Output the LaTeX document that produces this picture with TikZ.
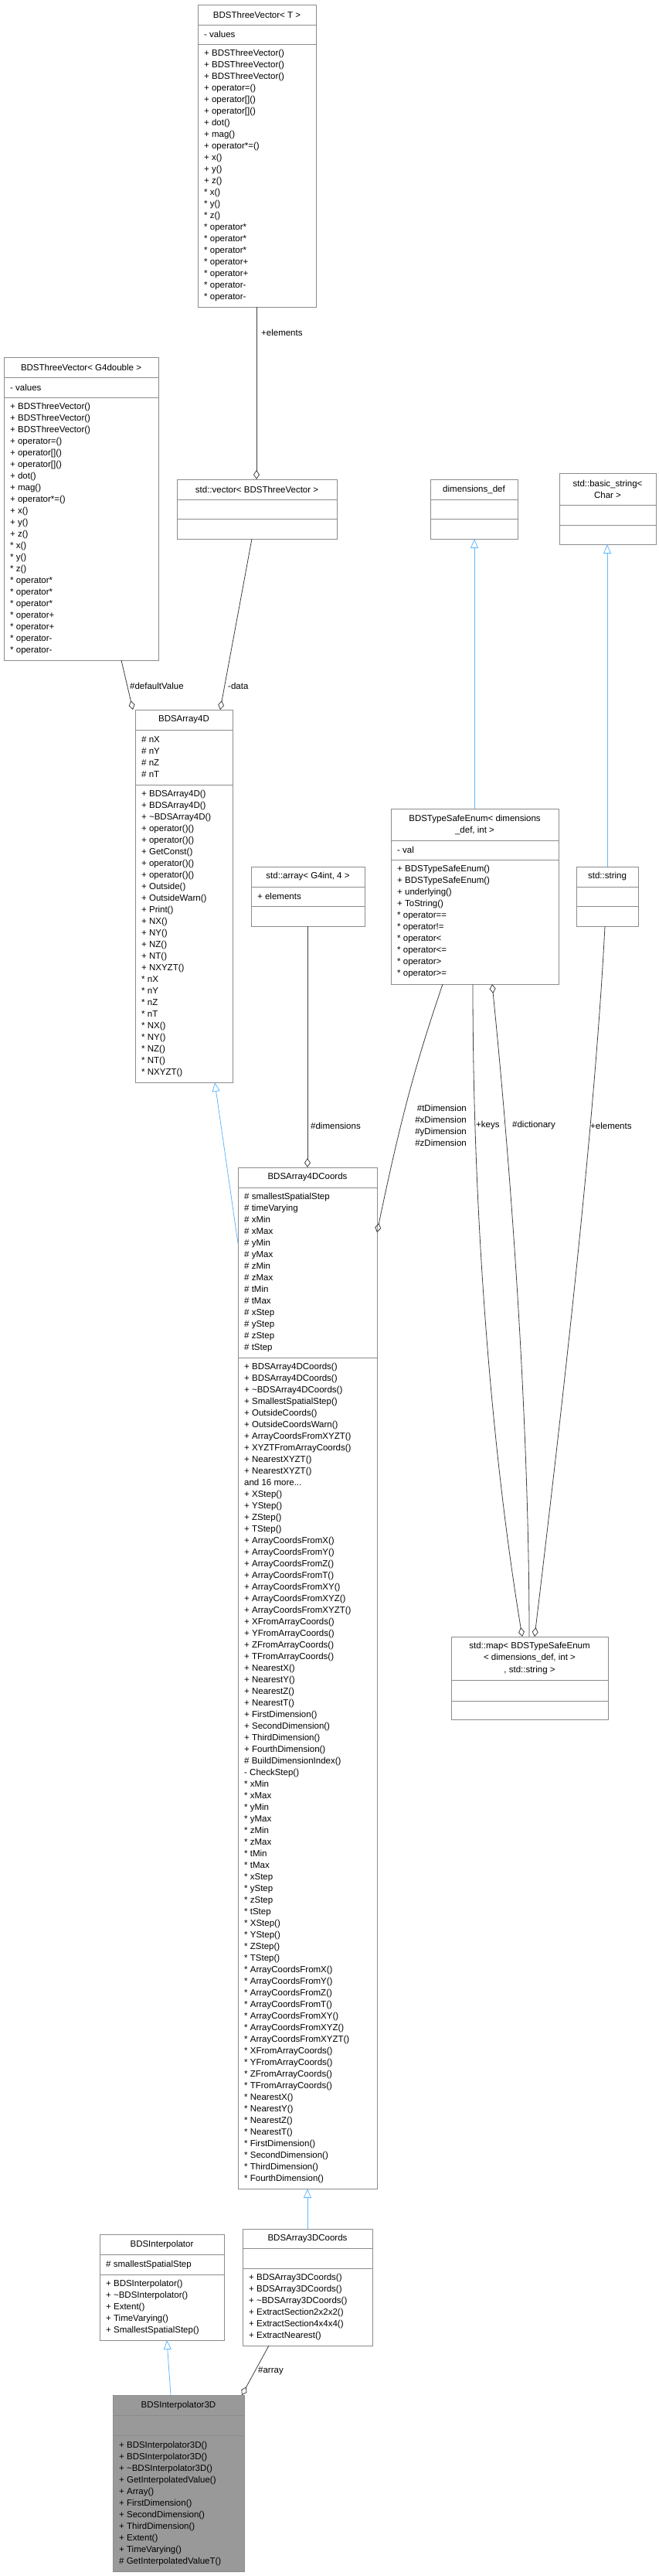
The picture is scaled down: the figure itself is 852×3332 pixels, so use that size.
\documentclass[tikz,border=0pt]{standalone}
\usepackage{fontspec}
\setmainfont{Liberation Sans}
\usetikzlibrary{arrows.meta}
\definecolor{boxc}{RGB}{140,140,140}
\definecolor{edgec}{RGB}{64,64,64}
\definecolor{inhc}{RGB}{99,184,255}
\definecolor{selc}{RGB}{153,153,153}
\tikzset{
  every node/.style={font=\fontsize{11.5}{15}\selectfont},
  tx/.style={anchor=west, align=left, inner sep=0},
  hd/.style={anchor=center, align=center, inner sep=0},
  lbl/.style={anchor=west, align=left, inner sep=0},
  agg/.style={draw=edgec, line width=0.8pt, {Diamond[open,length=12pt,width=8pt]}-},
  inh/.style={draw=inhc, line width=0.8pt, {Triangle[open,length=12pt,width=10pt]}-},
}
\newcommand\cls[8]{%
 \node[draw=boxc, line width=0.9pt, fill=#8, minimum width=#4pt, minimum height=#5pt, inner sep=0, anchor=north west] (#1) at (#2,#3) {};
 \draw[boxc, line width=0.9pt] (#2,#6) -- ++(#4,0);
 \draw[boxc, line width=0.9pt] (#2,#7) -- ++(#4,0);
 \coordinate (#1-t) at ({#2+#4/2},{(#3+#6)/2});
 \coordinate (#1-f) at ({#2+8},{(#6+#7)/2});
 \coordinate (#1-m) at ({#2+8},{(#7+#3+#5)/2});
}
\begin{document}
\begin{tikzpicture}[x=1pt,y=-1pt]
\useasboundingbox (0,0) rectangle (852,3332);
\fill[white] (0,0) rectangle (852,3332);

\cls{T3}{256}{6}{153}{391}{32}{57}{white}
\node[hd] at (T3-t) {BDSThreeVector< T >};
\node[tx] at (T3-f) {- values};
\node[tx] at (T3-m) {+ BDSThreeVector()\\+ BDSThreeVector()\\+ BDSThreeVector()\\+ operator=()\\+ operator[]()\\+ operator[]()\\+ dot()\\+ mag()\\+ operator*=()\\+ x()\\+ y()\\+ z()\\* x()\\* y()\\* z()\\* operator*\\* operator*\\* operator*\\* operator+\\* operator+\\* operator-\\* operator-};

\cls{G4}{5}{462}{200}{392}{488}{514}{white}
\node[hd] at (G4-t) {BDSThreeVector< G4double >};
\node[tx] at (G4-f) {- values};
\node[tx] at (G4-m) {+ BDSThreeVector()\\+ BDSThreeVector()\\+ BDSThreeVector()\\+ operator=()\\+ operator[]()\\+ operator[]()\\+ dot()\\+ mag()\\+ operator*=()\\+ x()\\+ y()\\+ z()\\* x()\\* y()\\* z()\\* operator*\\* operator*\\* operator*\\* operator+\\* operator+\\* operator-\\* operator-};

\cls{vec}{229}{620}{207}{77}{646}{671}{white}
\node[hd] at (vec-t) {std::vector< BDSThreeVector >};

\cls{dim}{557}{620}{113}{77}{646}{671}{white}
\node[hd] at (dim-t) {dimensions\_def};

\cls{bstr}{724}{612}{125}{92}{653}{679}{white}
\node[hd] at (bstr-t) {std::basic\_string<\\Char >};

\cls{A4D}{175}{918}{126}{482}{944}{1015}{white}
\node[hd] at (A4D-t) {BDSArray4D};
\node[tx] at (A4D-f) {\# nX\\\# nY\\\# nZ\\\# nT};
\node[tx] at (A4D-m) {+ BDSArray4D()\\+ BDSArray4D()\\+ \textasciitilde BDSArray4D()\\+ operator()()\\+ operator()()\\+ GetConst()\\+ operator()()\\+ operator()()\\+ Outside()\\+ OutsideWarn()\\+ Print()\\+ NX()\\+ NY()\\+ NZ()\\+ NT()\\+ NXYZT()\\* nX\\* nY\\* nZ\\* nT\\* NX()\\* NY()\\* NZ()\\* NT()\\* NXYZT()};

\cls{arr}{325}{1121}{147}{77}{1147}{1172}{white}
\node[hd] at (arr-t) {std::array< G4int, 4 >};
\node[tx] at (arr-f) {+ elements};

\cls{tse}{506}{1046}{217}{227}{1087}{1112}{white}
\node[hd] at (tse-t) {BDSTypeSafeEnum< dimensions\\\_def, int >};
\node[tx] at (tse-f) {- val};
\node[tx] at (tse-m) {+ BDSTypeSafeEnum()\\+ BDSTypeSafeEnum()\\+ underlying()\\+ ToString()\\* operator==\\* operator!=\\* operator<\\* operator<=\\* operator>\\* operator>=};

\cls{str}{746}{1121}{80}{77}{1147}{1172}{white}
\node[hd] at (str-t) {std::string};

\cls{A4C}{308}{1510}{180}{1321}{1536}{1756}{white}
\node[hd] at (A4C-t) {BDSArray4DCoords};
\node[tx] at (A4C-f) {\# smallestSpatialStep\\\# timeVarying\\\# xMin\\\# xMax\\\# yMin\\\# yMax\\\# zMin\\\# zMax\\\# tMin\\\# tMax\\\# xStep\\\# yStep\\\# zStep\\\# tStep};
\node[tx] at (A4C-m) {+ BDSArray4DCoords()\\+ BDSArray4DCoords()\\+ \textasciitilde BDSArray4DCoords()\\+ SmallestSpatialStep()\\+ OutsideCoords()\\+ OutsideCoordsWarn()\\+ ArrayCoordsFromXYZT()\\+ XYZTFromArrayCoords()\\+ NearestXYZT()\\+ NearestXYZT()\\and 16 more...\\+ XStep()\\+ YStep()\\+ ZStep()\\+ TStep()\\+ ArrayCoordsFromX()\\+ ArrayCoordsFromY()\\+ ArrayCoordsFromZ()\\+ ArrayCoordsFromT()\\+ ArrayCoordsFromXY()\\+ ArrayCoordsFromXYZ()\\+ ArrayCoordsFromXYZT()\\+ XFromArrayCoords()\\+ YFromArrayCoords()\\+ ZFromArrayCoords()\\+ TFromArrayCoords()\\+ NearestX()\\+ NearestY()\\+ NearestZ()\\+ NearestT()\\+ FirstDimension()\\+ SecondDimension()\\+ ThirdDimension()\\+ FourthDimension()\\\# BuildDimensionIndex()\\- CheckStep()\\* xMin\\* xMax\\* yMin\\* yMax\\* zMin\\* zMax\\* tMin\\* tMax\\* xStep\\* yStep\\* zStep\\* tStep\\* XStep()\\* YStep()\\* ZStep()\\* TStep()\\* ArrayCoordsFromX()\\* ArrayCoordsFromY()\\* ArrayCoordsFromZ()\\* ArrayCoordsFromT()\\* ArrayCoordsFromXY()\\* ArrayCoordsFromXYZ()\\* ArrayCoordsFromXYZT()\\* XFromArrayCoords()\\* YFromArrayCoords()\\* ZFromArrayCoords()\\* TFromArrayCoords()\\* NearestX()\\* NearestY()\\* NearestZ()\\* NearestT()\\* FirstDimension()\\* SecondDimension()\\* ThirdDimension()\\* FourthDimension()};

\cls{map}{584}{2117}{203}{107}{2173}{2200}{white}
\node[hd] at (map-t) {std::map< BDSTypeSafeEnum\\< dimensions\_def, int >\\, std::string >};

\cls{A3D}{314}{2883}{168}{151}{2908}{2934}{white}
\node[hd] at (A3D-t) {BDSArray3DCoords};
\node[tx] at (A3D-m) {+ BDSArray3DCoords()\\+ BDSArray3DCoords()\\+ \textasciitilde BDSArray3DCoords()\\+ ExtractSection2x2x2()\\+ ExtractSection4x4x4()\\+ ExtractNearest()};

\cls{BI}{129}{2890}{161}{137}{2916}{2942}{white}
\node[hd] at (BI-t) {BDSInterpolator};
\node[tx] at (BI-f) {\# smallestSpatialStep};
\node[tx] at (BI-m) {+ BDSInterpolator()\\+ \textasciitilde BDSInterpolator()\\+ Extent()\\+ TimeVarying()\\+ SmallestSpatialStep()};

\cls{BI3}{146}{3098}{170}{228}{3124}{3150}{selc}
\node[hd] at (BI3-t) {BDSInterpolator3D};
\node[tx] at (BI3-m) {+ BDSInterpolator3D()\\+ BDSInterpolator3D()\\+ \textasciitilde BDSInterpolator3D()\\+ GetInterpolatedValue()\\+ Array()\\+ FirstDimension()\\+ SecondDimension()\\+ ThirdDimension()\\+ Extent()\\+ TimeVarying()\\\# GetInterpolatedValueT()};

% connectors
\coordinate (c1) at (332,620); \coordinate (c1b) at (332,397);
\draw[agg] (c1) -- (c1b);
\node[lbl] at (338,430) {+elements};

\coordinate (c2) at (172,918); \coordinate (c2b) at (157,854);
\draw[agg] (c2) -- (c2b);
\node[lbl] at (168,887) {\#defaultValue};

\coordinate (c3) at (285,918); \coordinate (c3b) at (326,697);
\draw[agg] (c3) -- (c3b);
\node[lbl] at (295,887) {-data};

\coordinate (c4) at (614,697); \coordinate (c4b) at (614,1046);
\draw[inh] (c4) -- (c4b);
\coordinate (c5) at (786,704); \coordinate (c5b) at (786,1121);
\draw[inh] (c5) -- (c5b);

\coordinate (c6) at (278,1400); \coordinate (c6b) at (308,1608);
\draw[inh] (c6) -- (c6b);

\coordinate (c7) at (398,1510); \coordinate (c7b) at (398,1198);
\draw[agg] (c7) -- (c7b);
\node[lbl] at (402,1456) {\#dimensions};

\coordinate (c8) at (488,1594); \coordinate (c8b) at (573,1273);
\draw[agg] (c8) .. controls (520,1440) and (540,1370) .. (c8b);
\node[anchor=east, align=right, inner sep=0] at (604,1456) {\#tDimension\\\#xDimension\\\#yDimension\\\#zDimension};

\coordinate (c9) at (676,2117); \coordinate (c9b) at (612,1273);
\draw[agg] (c9) .. controls (640,1900) and (612,1600) .. (c9b);
\node[lbl] at (616,1456) {+keys};

\coordinate (c10) at (637,1273); \coordinate (c10b) at (685,2117);
\draw[agg] (c10) .. controls (655,1450) and (685,1800) .. (c10b);
\node[lbl] at (663,1456) {\#dictionary};

\coordinate (c11) at (692,2117); \coordinate (c11b) at (783,1198);
\draw[agg] (c11) .. controls (730,1800) and (770,1450) .. (c11b);
\node[lbl] at (764,1456) {+elements};

\coordinate (c12) at (398,2831); \coordinate (c12b) at (398,2883);
\draw[inh] (c12) -- (c12b);

\coordinate (c13) at (216,3027); \coordinate (c13b) at (221,3098);
\draw[inh] (c13) -- (c13b);

\coordinate (c14) at (313,3098); \coordinate (c14b) at (348,3034);
\draw[agg] (c14) -- (c14b);
\node[lbl] at (334,3067) {\#array};
\end{tikzpicture}
\end{document}
